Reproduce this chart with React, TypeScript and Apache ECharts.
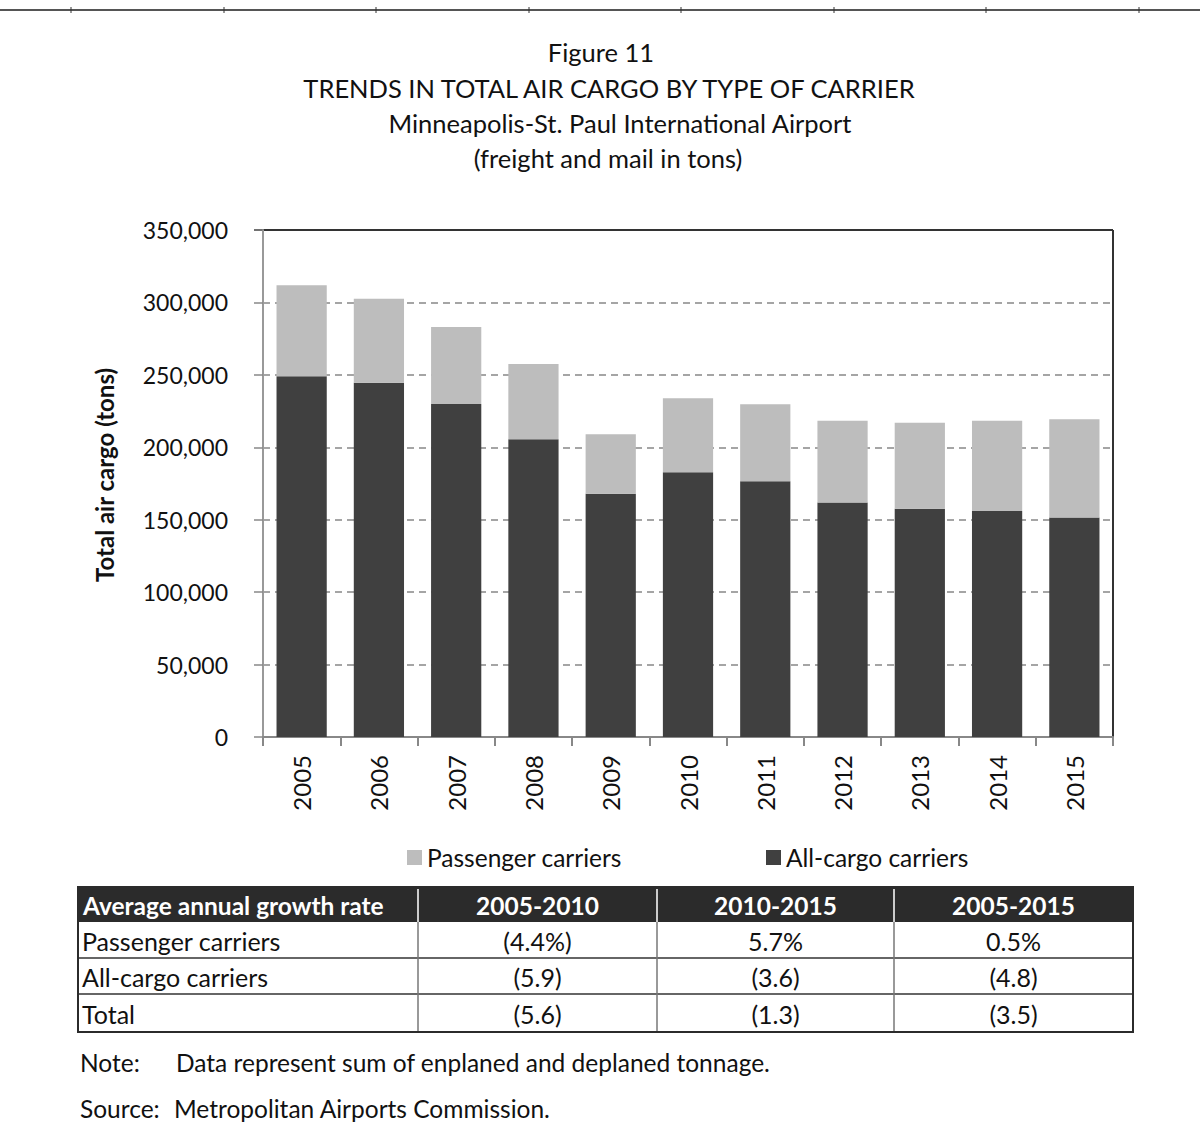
import React, { useEffect, useRef } from "react";
import * as echarts from "echarts";

const FONT = "Lato, 'Open Sans', sans-serif";

const years = ["2005", "2006", "2007", "2008", "2009", "2010", "2011", "2012", "2013", "2014", "2015"];
const allCargo = [249000, 244600, 229900, 205500, 168000, 182700, 176500, 161800, 157600, 156000, 151600];
const passenger = [62800, 58000, 53100, 52000, 41000, 51100, 53200, 56600, 59400, 62400, 67700];

const titleLines = [
  "Figure 11",
  "TRENDS IN TOTAL AIR CARGO BY TYPE OF CARRIER",
  "Minneapolis-St. Paul International Airport",
  "(freight and mail in tons)",
];
const yAxisTitle = "Total air cargo (tons)";
const seriesNames = ["All-cargo carriers", "Passenger carriers"];

const tableHeader = ["Average annual growth rate", "2005-2010", "2010-2015", "2005-2015"];
const tableRowLabels = ["Passenger carriers", "All-cargo carriers", "Total"];
const rate0510 = ["(4.4%)", "(5.9)", "(5.6)"];
const rate1015 = ["5.7%", "(3.6)", "(1.3)"];
const rate0515 = ["0.5%", "(4.8)", "(3.5)"];

const noteLabels = ["Note:", "Source:"];
const noteTexts = ["Data represent sum of enplaned and deplaned tonnage.", "Metropolitan Airports Commission."];

function buildGraphics() {
  const els: any[] = [];
  // top rule
  els.push({ type: "line", shape: { x1: 0, y1: 10, x2: 1200, y2: 10 }, style: { stroke: "#555", lineWidth: 2 } });
  [71, 224, 376, 529, 681, 834, 986, 1139].forEach((x) => {
    els.push({ type: "line", shape: { x1: x, y1: 7, x2: x, y2: 13 }, style: { stroke: "#333", lineWidth: 1 } });
  });
  // plot frame: top and right edges
  els.push({ type: "line", shape: { x1: 254, y1: 230, x2: 1113, y2: 230 }, style: { stroke: "#333", lineWidth: 2 } });
  els.push({ type: "line", shape: { x1: 1113, y1: 230, x2: 1113, y2: 737 }, style: { stroke: "#333", lineWidth: 2 } });
  // titles
  const tx = [601, 609, 620, 608];
  const ty = [52, 88, 123, 158];
  titleLines.forEach((t, i) => {
    els.push({
      type: "text",
      x: tx[i],
      y: ty[i],
      style: { text: t, fill: "#111", fontFamily: FONT, fontSize: 25.5, textAlign: "center", textVerticalAlign: "middle" },
    });
  });
  // y axis title
  els.push({
    type: "text",
    x: 104,
    y: 475,
    rotation: Math.PI / 2,
    style: {
      text: yAxisTitle,
      fill: "#111",
      fontFamily: FONT,
      fontSize: 24,
      fontWeight: "bold",
      textAlign: "center",
      textVerticalAlign: "middle",
    },
  });
  // table
  const cx = [78, 418, 657, 894, 1133];
  const ry = [887, 922, 958, 994, 1032];
  els.push({
    type: "rect",
    shape: { x: cx[0], y: ry[0], width: cx[4] - cx[0], height: ry[1] - ry[0] },
    style: { fill: "#2b2b2b" },
  });
  for (let r = 2; r < 4; r++) {
    els.push({ type: "line", shape: { x1: cx[0], y1: ry[r], x2: cx[4], y2: ry[r] }, style: { stroke: "#333", lineWidth: 1.5 } });
  }
  for (let c = 1; c < 4; c++) {
    els.push({ type: "line", shape: { x1: cx[c], y1: ry[0] + 2, x2: cx[c], y2: ry[1] }, style: { stroke: "#ccc", lineWidth: 2 } });
    els.push({ type: "line", shape: { x1: cx[c], y1: ry[1], x2: cx[c], y2: ry[4] }, style: { stroke: "#777", lineWidth: 1.5 } });
  }
  els.push({
    type: "rect",
    shape: { x: cx[0], y: ry[0], width: cx[4] - cx[0], height: ry[4] - ry[0] },
    style: { fill: "none", stroke: "#2b2b2b", lineWidth: 2 },
  });
  tableHeader.forEach((h, c) => {
    els.push({
      type: "text",
      x: c === 0 ? cx[0] + 5 : (cx[c] + cx[c + 1]) / 2,
      y: (ry[0] + ry[1]) / 2 + 1,
      style: {
        text: h,
        fill: "#fff",
        fontFamily: FONT,
        fontSize: 24.5,
        fontWeight: "bold",
        textAlign: c === 0 ? "left" : "center",
        textVerticalAlign: "middle",
      },
    });
  });
  const cols = [tableRowLabels, rate0510, rate1015, rate0515];
  for (let r = 0; r < 3; r++) {
    for (let c = 0; c < 4; c++) {
      els.push({
        type: "text",
        x: c === 0 ? cx[0] + 4 : (cx[c] + cx[c + 1]) / 2,
        y: (ry[r + 1] + ry[r + 2]) / 2 + 1,
        style: {
          text: cols[c][r],
          fill: "#111",
          fontFamily: FONT,
          fontSize: 25,
          textAlign: c === 0 ? "left" : "center",
          textVerticalAlign: "middle",
        },
      });
    }
  }
  // notes
  const ny = [1062, 1108];
  const nx = [176, 174];
  noteLabels.forEach((l, i) => {
    els.push({
      type: "text",
      x: 80,
      y: ny[i],
      style: { text: l, fill: "#111", fontFamily: FONT, fontSize: 24.5, textAlign: "left", textVerticalAlign: "middle" },
    });
    els.push({
      type: "text",
      x: nx[i],
      y: ny[i],
      style: { text: noteTexts[i], fill: "#111", fontFamily: FONT, fontSize: 24.5, textAlign: "left", textVerticalAlign: "middle" },
    });
  });
  return els;
}

export default function App() {
  const ref = useRef<HTMLDivElement>(null);
  useEffect(() => {
    document.body.style.margin = "0";
    const chart = echarts.init(ref.current!, null, { renderer: "svg" });
    const legendCommon = {
      icon: "rect",
      itemWidth: 15,
      itemHeight: 15,
      itemGap: 10,
      top: 840,
      textStyle: { fontFamily: FONT, fontSize: 24.5, color: "#111" },
    };
    chart.setOption({
      animation: false,
      backgroundColor: "#fff",
      textStyle: { fontFamily: FONT },
      grid: {
        left: 263,
        right: 87,
        top: 230,
        bottom: 393,
        show: false,
      },
      legend: [
        { ...legendCommon, left: 402, data: [seriesNames[1]] },
        { ...legendCommon, left: 761, data: [seriesNames[0]] },
      ],
      xAxis: {
        type: "category",
        data: years,
        boundaryGap: true,
        axisLine: { lineStyle: { color: "#888", width: 2 } },
        axisTick: { show: true, length: 9, lineStyle: { color: "#888", width: 2 } },
        axisLabel: { rotate: 90, margin: 18, fontSize: 24, color: "#111", fontFamily: FONT },
        splitLine: { show: false },
      },
      yAxis: {
        type: "value",
        min: 0,
        max: 350000,
        interval: 50000,
        axisLine: { show: true, lineStyle: { color: "#999", width: 2 } },
        axisTick: { show: true, length: 9, lineStyle: { color: "#888", width: 1.5 } },
        axisLabel: {
          margin: 35,
          fontSize: 23,
          color: "#111",
          fontFamily: FONT,
          formatter: (v: number) => v.toLocaleString("en-US"),
        },
        splitLine: { show: true, showMaxLine: false, lineStyle: { color: "#888", type: [7, 5], width: 1.5 } },
      },
      series: [
        {
          name: seriesNames[0],
          type: "bar",
          stack: "total",
          data: allCargo,
          barWidth: "65%",
          itemStyle: { color: "#404040" },
        },
        {
          name: seriesNames[1],
          type: "bar",
          stack: "total",
          data: passenger,
          barWidth: "65%",
          itemStyle: { color: "#bdbdbd" },
        },
      ],
      graphic: buildGraphics(),
    });
    return () => chart.dispose();
  }, []);
  return <div ref={ref} style={{ width: 1200, height: 1130 }} />;
}
